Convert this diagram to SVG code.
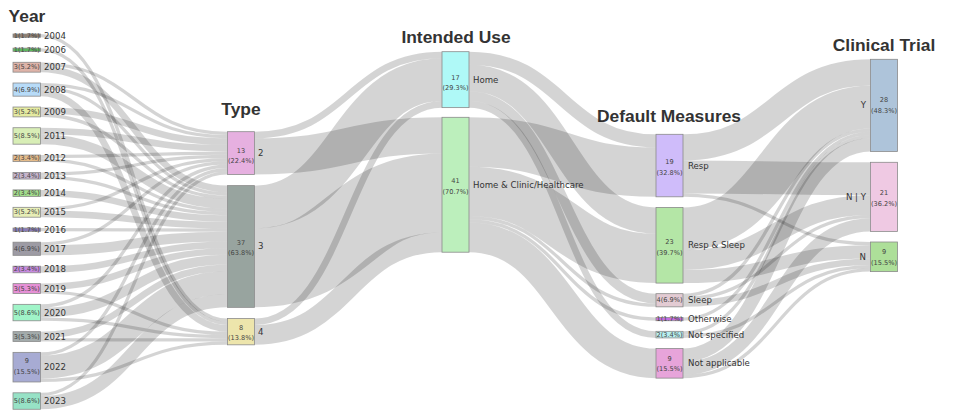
<svg xmlns="http://www.w3.org/2000/svg" width="953" height="413" viewBox="0 0 953 413">
<style>
.lk{fill:none;stroke:#000;stroke-opacity:0.17}
.nd{stroke:#8a8a8a;stroke-width:0.8}
.in{font-family:"DejaVu Sans",Verdana,sans-serif;font-size:6.6px;fill:#444;text-anchor:middle;dominant-baseline:central}
.lb{font-family:"DejaVu Sans",Verdana,sans-serif;font-size:8.6px;fill:#333;dominant-baseline:central}
.lr{font-family:"DejaVu Sans",Verdana,sans-serif;font-size:8.6px;fill:#333;dominant-baseline:central;text-anchor:end}
.ttl{font-family:"Liberation Sans",Arial,sans-serif;font-weight:bold;font-size:17.4px;fill:#333;text-anchor:middle}
</style>
<rect width="953" height="413" fill="#fff"/>
<g id="titles">
<text class="ttl" x="27" y="22" font-size="16.5">Year</text>
<text class="ttl" x="241" y="115">Type</text>
<text class="ttl" x="456" y="42.7">Intended Use</text>
<text class="ttl" x="669" y="121.7">Default Measures</text>
<text class="ttl" x="884" y="51">Clinical Trial</text>
</g>
<g id="links">
<path class="lk" stroke-width="3.29" d="M40.5,35.65C134,35.65 134,320.15 227.5,320.15"/>
<path class="lk" stroke-width="3.29" d="M40.5,49.79C134,49.79 134,323.44 227.5,323.44"/>
<path class="lk" stroke-width="3.29" d="M40.5,63.93C134,63.93 134,133.35 227.5,133.35"/>
<path class="lk" stroke-width="6.58" d="M40.5,68.86C134,68.86 134,188.91 227.5,188.91"/>
<path class="lk" stroke-width="3.29" d="M40.5,84.65C134,84.65 134,136.64 227.5,136.64"/>
<path class="lk" stroke-width="3.29" d="M40.5,87.94C134,87.94 134,193.85 227.5,193.85"/>
<path class="lk" stroke-width="6.58" d="M40.5,92.87C134,92.87 134,328.37 227.5,328.37"/>
<path class="lk" stroke-width="6.58" d="M40.5,110.3C134,110.3 134,141.57 227.5,141.57"/>
<path class="lk" stroke-width="3.29" d="M40.5,115.24C134,115.24 134,197.14 227.5,197.14"/>
<path class="lk" stroke-width="6.58" d="M40.5,131.02C134,131.02 134,148.15 227.5,148.15"/>
<path class="lk" stroke-width="9.87" d="M40.5,139.25C134,139.25 134,203.72 227.5,203.72"/>
<path class="lk" stroke-width="3.29" d="M40.5,156.68C134,156.68 134,153.09 227.5,153.09"/>
<path class="lk" stroke-width="3.29" d="M40.5,159.97C134,159.97 134,210.3 227.5,210.3"/>
<path class="lk" stroke-width="3.29" d="M40.5,174.11C134,174.11 134,156.38 227.5,156.38"/>
<path class="lk" stroke-width="3.29" d="M40.5,177.4C134,177.4 134,213.59 227.5,213.59"/>
<path class="lk" stroke-width="6.58" d="M40.5,193.18C134,193.18 134,218.52 227.5,218.52"/>
<path class="lk" stroke-width="3.29" d="M40.5,208.97C134,208.97 134,159.67 227.5,159.67"/>
<path class="lk" stroke-width="6.58" d="M40.5,213.9C134,213.9 134,225.1 227.5,225.1"/>
<path class="lk" stroke-width="3.29" d="M40.5,229.69C134,229.69 134,230.04 227.5,230.04"/>
<path class="lk" stroke-width="3.29" d="M40.5,243.83C134,243.83 134,162.96 227.5,162.96"/>
<path class="lk" stroke-width="9.87" d="M40.5,250.41C134,250.41 134,236.62 227.5,236.62"/>
<path class="lk" stroke-width="6.58" d="M40.5,269.48C134,269.48 134,244.84 227.5,244.84"/>
<path class="lk" stroke-width="6.58" d="M40.5,286.91C134,286.91 134,251.42 227.5,251.42"/>
<path class="lk" stroke-width="3.29" d="M40.5,291.85C134,291.85 134,333.31 227.5,333.31"/>
<path class="lk" stroke-width="3.29" d="M40.5,305.99C134,305.99 134,166.25 227.5,166.25"/>
<path class="lk" stroke-width="9.87" d="M40.5,312.57C134,312.57 134,259.65 227.5,259.65"/>
<path class="lk" stroke-width="3.29" d="M40.5,319.15C134,319.15 134,336.6 227.5,336.6"/>
<path class="lk" stroke-width="6.58" d="M40.5,334.93C134,334.93 134,267.87 227.5,267.87"/>
<path class="lk" stroke-width="3.29" d="M40.5,339.87C134,339.87 134,339.89 227.5,339.89"/>
<path class="lk" stroke-width="3.29" d="M40.5,354.01C134,354.01 134,169.54 227.5,169.54"/>
<path class="lk" stroke-width="23.03" d="M40.5,367.17C134,367.17 134,282.68 227.5,282.68"/>
<path class="lk" stroke-width="3.29" d="M40.5,380.33C134,380.33 134,343.18 227.5,343.18"/>
<path class="lk" stroke-width="3.29" d="M40.5,394.47C134,394.47 134,172.83 227.5,172.83"/>
<path class="lk" stroke-width="13.16" d="M40.5,402.69C134,402.69 134,300.77 227.5,300.77"/>
<path class="lk" stroke-width="6.58" d="M254.5,134.99C348.25,134.99 348.25,54.99 442,54.99"/>
<path class="lk" stroke-width="36.19" d="M254.5,156.38C348.25,156.38 348.25,135.4 442,135.4"/>
<path class="lk" stroke-width="42.77" d="M254.5,207.01C348.25,207.01 348.25,79.67 442,79.67"/>
<path class="lk" stroke-width="78.96" d="M254.5,267.87C348.25,267.87 348.25,192.97 442,192.97"/>
<path class="lk" stroke-width="6.58" d="M254.5,321.79C348.25,321.79 348.25,104.34 442,104.34"/>
<path class="lk" stroke-width="19.74" d="M254.5,334.95C348.25,334.95 348.25,242.32 442,242.32"/>
<path class="lk" stroke-width="13.16" d="M469,58.28C562.5,58.28 562.5,140.88 656,140.88"/>
<path class="lk" stroke-width="26.32" d="M469,78.02C562.5,78.02 562.5,220.57 656,220.57"/>
<path class="lk" stroke-width="9.87" d="M469,96.12C562.5,96.12 562.5,298.62 656,298.62"/>
<path class="lk" stroke-width="6.58" d="M469,104.34C562.5,104.34 562.5,334.62 656,334.62"/>
<path class="lk" stroke-width="49.35" d="M469,141.98C562.5,141.98 562.5,172.14 656,172.14"/>
<path class="lk" stroke-width="49.35" d="M469,191.33C562.5,191.33 562.5,258.41 656,258.41"/>
<path class="lk" stroke-width="3.29" d="M469,217.65C562.5,217.65 562.5,305.2 656,305.2"/>
<path class="lk" stroke-width="3.29" d="M469,220.94C562.5,220.94 562.5,319.09 656,319.09"/>
<path class="lk" stroke-width="29.61" d="M469,237.39C562.5,237.39 562.5,363.32 656,363.32"/>
<path class="lk" stroke-width="26.32" d="M683,147.46C776.75,147.46 776.75,72.46 870.5,72.46"/>
<path class="lk" stroke-width="32.9" d="M683,177.07C776.75,177.07 776.75,178.75 870.5,178.75"/>
<path class="lk" stroke-width="3.29" d="M683,195.17C776.75,195.17 776.75,243.65 870.5,243.65"/>
<path class="lk" stroke-width="42.77" d="M683,228.8C776.75,228.8 776.75,107.01 870.5,107.01"/>
<path class="lk" stroke-width="19.74" d="M683,260.05C776.75,260.05 776.75,205.07 870.5,205.07"/>
<path class="lk" stroke-width="13.16" d="M683,276.5C776.75,276.5 776.75,251.87 870.5,251.87"/>
<path class="lk" stroke-width="3.29" d="M683,295.33C776.75,295.33 776.75,130.04 870.5,130.04"/>
<path class="lk" stroke-width="3.29" d="M683,298.62C776.75,298.62 776.75,216.59 870.5,216.59"/>
<path class="lk" stroke-width="6.58" d="M683,303.55C776.75,303.55 776.75,261.74 870.5,261.74"/>
<path class="lk" stroke-width="3.29" d="M683,319.09C776.75,319.09 776.75,133.33 870.5,133.33"/>
<path class="lk" stroke-width="3.29" d="M683,332.98C776.75,332.98 776.75,136.62 870.5,136.62"/>
<path class="lk" stroke-width="3.29" d="M683,336.27C776.75,336.27 776.75,266.68 870.5,266.68"/>
<path class="lk" stroke-width="13.16" d="M683,355.09C776.75,355.09 776.75,144.84 870.5,144.84"/>
<path class="lk" stroke-width="13.16" d="M683,368.25C776.75,368.25 776.75,224.81 870.5,224.81"/>
<path class="lk" stroke-width="3.29" d="M683,376.48C776.75,376.48 776.75,269.97 870.5,269.97"/>
</g>
<g id="year-2004"><rect class="nd" x="13" y="34" width="27.5" height="3.29" fill="#8f7f72"/><text class="in" x="26.75" y="35.65">1(1.7%)</text><text class="lb" x="44" y="35.65">2004</text></g>
<g id="year-2006"><rect class="nd" x="13" y="48.14" width="27.5" height="3.29" fill="#5fb760"/><text class="in" x="26.75" y="49.79">1(1.7%)</text><text class="lb" x="44" y="49.79">2006</text></g>
<g id="year-2007"><rect class="nd" x="13" y="62.28" width="27.5" height="9.87" fill="#deb3a8"/><text class="in" x="26.75" y="67.22">3(5.2%)</text><text class="lb" x="44" y="67.22">2007</text></g>
<g id="year-2008"><rect class="nd" x="13" y="83" width="27.5" height="13.16" fill="#b7dbf8"/><text class="in" x="26.75" y="89.58">4(6.9%)</text><text class="lb" x="44" y="89.58">2008</text></g>
<g id="year-2009"><rect class="nd" x="13" y="107.01" width="27.5" height="9.87" fill="#e4eaa0"/><text class="in" x="26.75" y="111.95">3(5.2%)</text><text class="lb" x="44" y="111.95">2009</text></g>
<g id="year-2011"><rect class="nd" x="13" y="127.73" width="27.5" height="16.45" fill="#d8eeb6"/><text class="in" x="26.75" y="135.96">5(8.5%)</text><text class="lb" x="44" y="135.96">2011</text></g>
<g id="year-2012"><rect class="nd" x="13" y="155.03" width="27.5" height="6.58" fill="#e4bb8a"/><text class="in" x="26.75" y="158.32">2(3.4%)</text><text class="lb" x="44" y="158.32">2012</text></g>
<g id="year-2013"><rect class="nd" x="13" y="172.46" width="27.5" height="6.58" fill="#c6b4cc"/><text class="in" x="26.75" y="175.75">2(3.4%)</text><text class="lb" x="44" y="175.75">2013</text></g>
<g id="year-2014"><rect class="nd" x="13" y="189.89" width="27.5" height="6.58" fill="#a2dc8c"/><text class="in" x="26.75" y="193.18">2(3.4%)</text><text class="lb" x="44" y="193.18">2014</text></g>
<g id="year-2015"><rect class="nd" x="13" y="207.32" width="27.5" height="9.87" fill="#e7eeb6"/><text class="in" x="26.75" y="212.26">3(5.2%)</text><text class="lb" x="44" y="212.26">2015</text></g>
<g id="year-2016"><rect class="nd" x="13" y="228.04" width="27.5" height="3.29" fill="#8b7cb8"/><text class="in" x="26.75" y="229.69">1(1.7%)</text><text class="lb" x="44" y="229.69">2016</text></g>
<g id="year-2017"><rect class="nd" x="13" y="242.18" width="27.5" height="13.16" fill="#9d9ba4"/><text class="in" x="26.75" y="248.76">4(6.9%)</text><text class="lb" x="44" y="248.76">2017</text></g>
<g id="year-2018"><rect class="nd" x="13" y="266.19" width="27.5" height="6.58" fill="#c68ade"/><text class="in" x="26.75" y="269.48">2(3.4%)</text><text class="lb" x="44" y="269.48">2018</text></g>
<g id="year-2019"><rect class="nd" x="13" y="283.62" width="27.5" height="9.87" fill="#e690d6"/><text class="in" x="26.75" y="288.56">3(5.3%)</text><text class="lb" x="44" y="288.56">2019</text></g>
<g id="year-2020"><rect class="nd" x="13" y="304.34" width="27.5" height="16.45" fill="#a0f4c8"/><text class="in" x="26.75" y="312.57">5(8.6%)</text><text class="lb" x="44" y="312.57">2020</text></g>
<g id="year-2021"><rect class="nd" x="13" y="331.64" width="27.5" height="9.87" fill="#a3abab"/><text class="in" x="26.75" y="336.58">3(5.3%)</text><text class="lb" x="44" y="336.58">2021</text></g>
<g id="year-2022"><rect class="nd" x="13" y="352.36" width="27.5" height="29.61" fill="#a7abd3"/><text class="in" x="26.75" y="361">9</text><text class="in" x="26.75" y="371.5">(15.5%)</text><text class="lb" x="44" y="367.17">2022</text></g>
<g id="year-2023"><rect class="nd" x="13" y="392.82" width="27.5" height="16.45" fill="#97e2c6"/><text class="in" x="26.75" y="401.05">5(8.6%)</text><text class="lb" x="44" y="401.05">2023</text></g>
<g id="type-2"><rect class="nd" x="227.5" y="131.7" width="27" height="42.77" fill="#e6b0e0"/><text class="in" x="241" y="150.5">13</text><text class="in" x="241" y="160.5">(22.4%)</text><text class="lb" x="258" y="153.09">2</text></g>
<g id="type-3"><rect class="nd" x="227.5" y="185.62" width="27" height="121.73" fill="#98a49f"/><text class="in" x="241" y="242.5">37</text><text class="in" x="241" y="253">(63.8%)</text><text class="lb" x="258" y="246.49">3</text></g>
<g id="type-4"><rect class="nd" x="227.5" y="318.5" width="27" height="26.32" fill="#ede5ac"/><text class="in" x="241" y="327.5">8</text><text class="in" x="241" y="337.5">(13.8%)</text><text class="lb" x="258" y="331.66">4</text></g>
<g id="use-home"><rect class="nd" x="442" y="51.7" width="27" height="55.93" fill="#aff9f7"/><text class="in" x="455.5" y="77.5">17</text><text class="in" x="455.5" y="88">(29.3%)</text><text class="lb" x="473" y="79.67">Home</text></g>
<g id="use-home-clinic"><rect class="nd" x="442" y="117.3" width="27" height="134.89" fill="#bcefbc"/><text class="in" x="455.5" y="181">41</text><text class="in" x="455.5" y="191.5">(70.7%)</text><text class="lb" x="473" y="184.75">Home &amp; Clinic/Healthcare</text></g>
<g id="dm-resp"><rect class="nd" x="656" y="134.3" width="27" height="62.51" fill="#cfbcfa"/><text class="in" x="669.5" y="162">19</text><text class="in" x="669.5" y="172.5">(32.8%)</text><text class="lb" x="688" y="165.56">Resp</text></g>
<g id="dm-resp-sleep"><rect class="nd" x="656" y="207.41" width="27" height="75.67" fill="#b4e6a6"/><text class="in" x="669.5" y="242">23</text><text class="in" x="669.5" y="252.5">(39.7%)</text><text class="lb" x="688" y="245.25">Resp &amp; Sleep</text></g>
<g id="dm-sleep"><rect class="nd" x="656" y="293.68" width="27" height="13.16" fill="#e3cbd3"/><text class="in" x="669.5" y="300.26">4(6.9%)</text><text class="lb" x="688" y="300.26">Sleep</text></g>
<g id="dm-otherwise"><rect class="nd" x="656" y="317.44" width="27" height="3.29" fill="#c56ee0"/><text class="in" x="669.5" y="319.09">1(1.7%)</text><text class="lb" x="688" y="319.09">Otherwise</text></g>
<g id="dm-not-specified"><rect class="nd" x="656" y="331.33" width="27" height="6.58" fill="#b8f0f0"/><text class="in" x="669.5" y="334.62">2(3.4%)</text><text class="lb" x="688" y="334.62">Not specified</text></g>
<g id="dm-not-applicable"><rect class="nd" x="656" y="348.51" width="27" height="29.61" fill="#e7a4da"/><text class="in" x="669.5" y="358.5">9</text><text class="in" x="669.5" y="369">(15.5%)</text><text class="lb" x="688" y="363.32">Not applicable</text></g>
<g id="ct-y"><rect class="nd" x="870.5" y="59.3" width="27" height="92.12" fill="#aec4da"/><text class="in" x="884" y="100">28</text><text class="in" x="884" y="110.5">(48.3%)</text><text class="lr" x="866" y="105.36">Y</text></g>
<g id="ct-ny"><rect class="nd" x="870.5" y="162.3" width="27" height="69.09" fill="#efc9e3"/><text class="in" x="884" y="193">21</text><text class="in" x="884" y="203.5">(36.2%)</text><text class="lr" x="866" y="196.85">N | Y</text></g>
<g id="ct-n"><rect class="nd" x="870.5" y="242" width="27" height="29.61" fill="#addf99"/><text class="in" x="884" y="252">9</text><text class="in" x="884" y="262.5">(15.5%)</text><text class="lr" x="866" y="256.81">N</text></g>
</svg>
